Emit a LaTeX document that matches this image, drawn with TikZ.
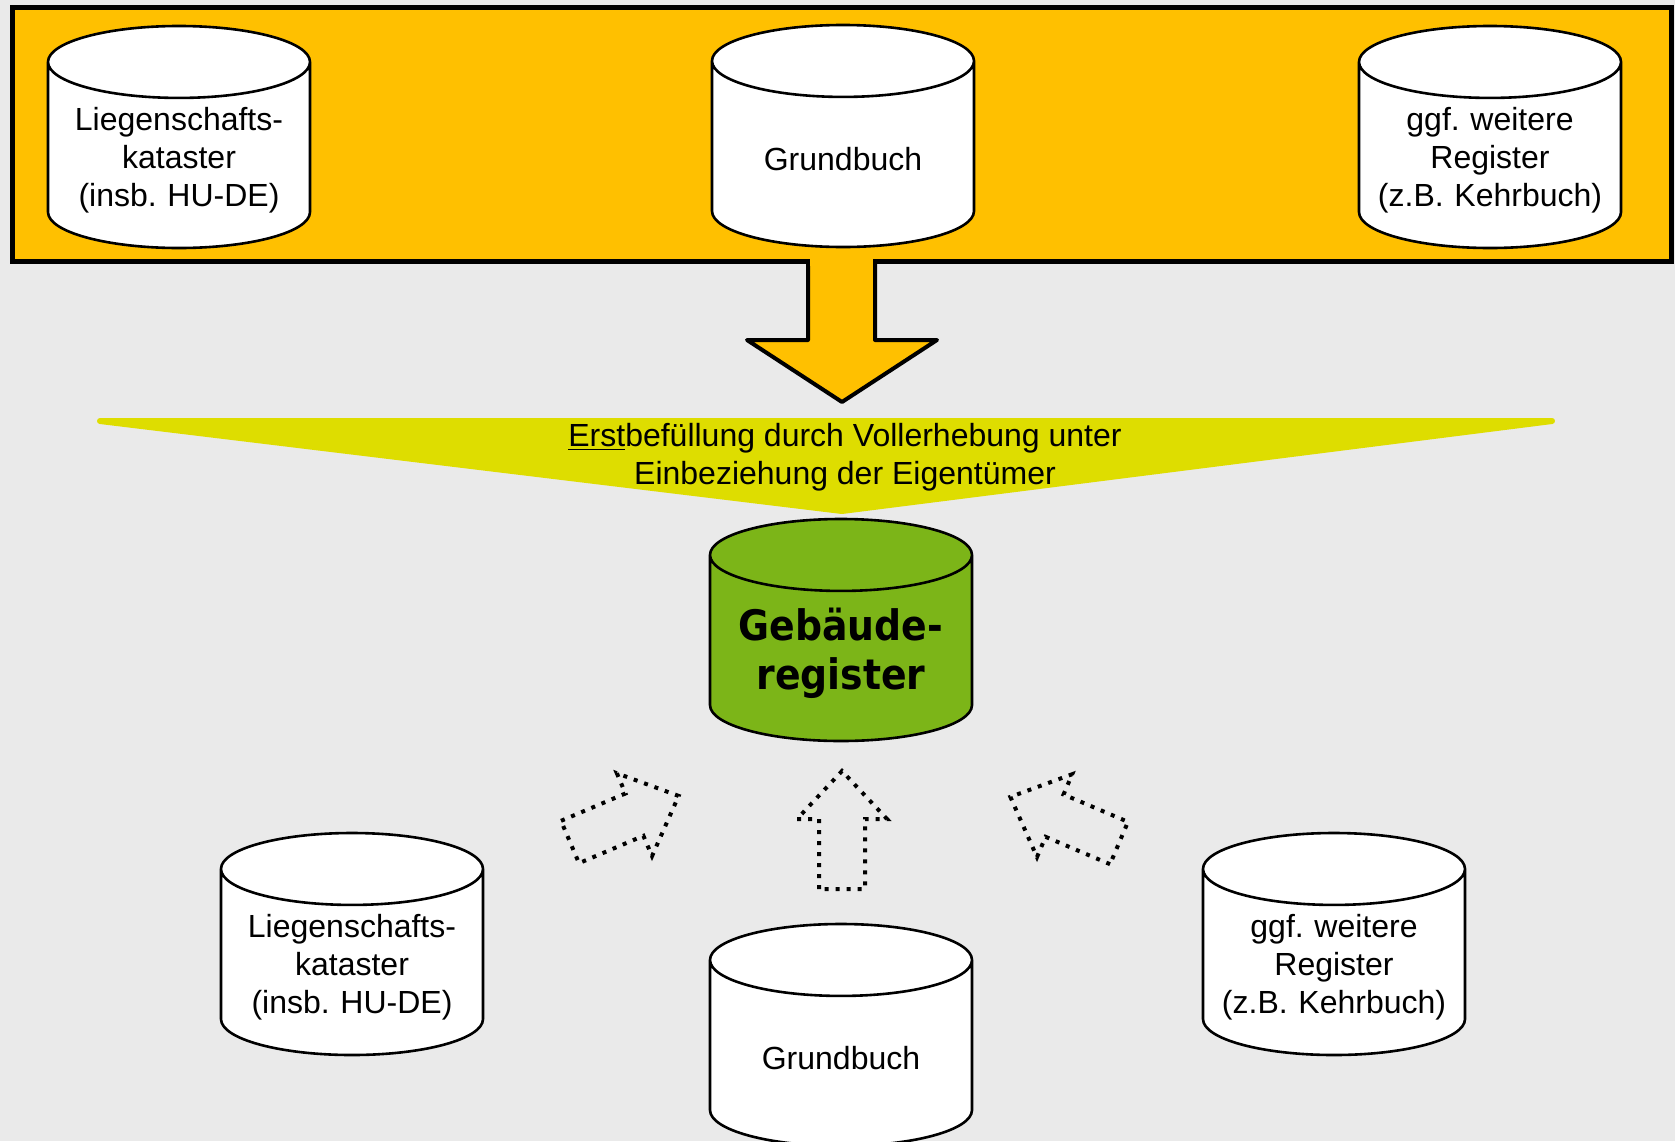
\documentclass[tikz,border=0pt]{standalone}
\usepackage{fontspec}
\setmainfont{Liberation Sans}
\newfontfamily\regfont{DejaVu Sans Condensed}
\usetikzlibrary{shapes.geometric}
\frenchspacing

\definecolor{bggray}{RGB}{234,234,234}
\definecolor{korange}{RGB}{255,192,0}
\definecolor{kyellow}{RGB}{222,221,0}
\definecolor{kgreen}{RGB}{124,181,24}

\tikzset{
  register/.style={draw, line width=1.3pt, fill=white, cylinder, shape border rotate=90,
                   aspect=0.29, minimum width=131pt, minimum height=111pt, inner sep=2pt,
                   text width=120pt, anchor=shape center, align=center,
                   font=\fontsize{16}{19}\selectfont},
  dotarrow/.style={draw=black, line width=2pt, dash pattern=on 2pt off 3.5pt},
  upblock/.pic={
    \draw[dotarrow] (-23,0) -- (-23,-70) -- (-45,-70) -- (0,-118)
                    -- (45,-70) -- (23,-70) -- (23,0) -- cycle;
  }
}

\begin{document}
\begin{tikzpicture}[x=0.5pt, y=-0.5pt]
  \useasboundingbox (0,0) rectangle (1675,1141);
  \fill[bggray] (0,0) rectangle (1675,1141);

  % source registers in the orange frame
  \filldraw[fill=korange, line width=2.5pt] (12,7) rectangle (1671,261);
  \node[register] (lkTop) at (179,137) {Liegenschafts-\\kataster\\(insb. HU-DE)};
  \node[register] (gbTop) at (843,136) {Grundbuch};
  \node[register] (wrTop) at (1490,137) {ggf. weitere\\Register\\(z.B. Kehrbuch)};

  % big arrow down
  \filldraw[fill=korange, line width=2pt, line join=round]
    (808,261) -- (808,340) -- (747,340) -- (842,402) -- (937,340) -- (875,340) -- (875,261);
  \fill[korange] (810,256) rectangle (873,266);

  % first filling
  \filldraw[kyellow, line width=3pt, line join=round] (100,421) -- (1552,421) -- (842,511) -- cycle;
  \node[align=center, font=\fontsize{16}{19}\selectfont] (erst) at (845,457)
    {\underline{Erst}befüllung durch Vollerhebung unter\\Einbeziehung der Eigentümer};

  % target register
  \node[register, fill=kgreen, font=\regfont\bfseries\fontsize{21}{24.5}\selectfont] (geb) at (841,630) {Gebäude-\\register};

  % updates from below
  \pic[rotate=-67] at (570,842) {upblock};
  \pic at (842,889) {upblock};
  \pic[rotate=67] at (1119,843) {upblock};

  \node[register] (lkBot) at (352,944) {Liegenschafts-\\kataster\\(insb. HU-DE)};
  \node[register] (gbBot) at (841,1035) {Grundbuch};
  \node[register] (wrBot) at (1334,944) {ggf. weitere\\Register\\(z.B. Kehrbuch)};
\end{tikzpicture}
\end{document}
